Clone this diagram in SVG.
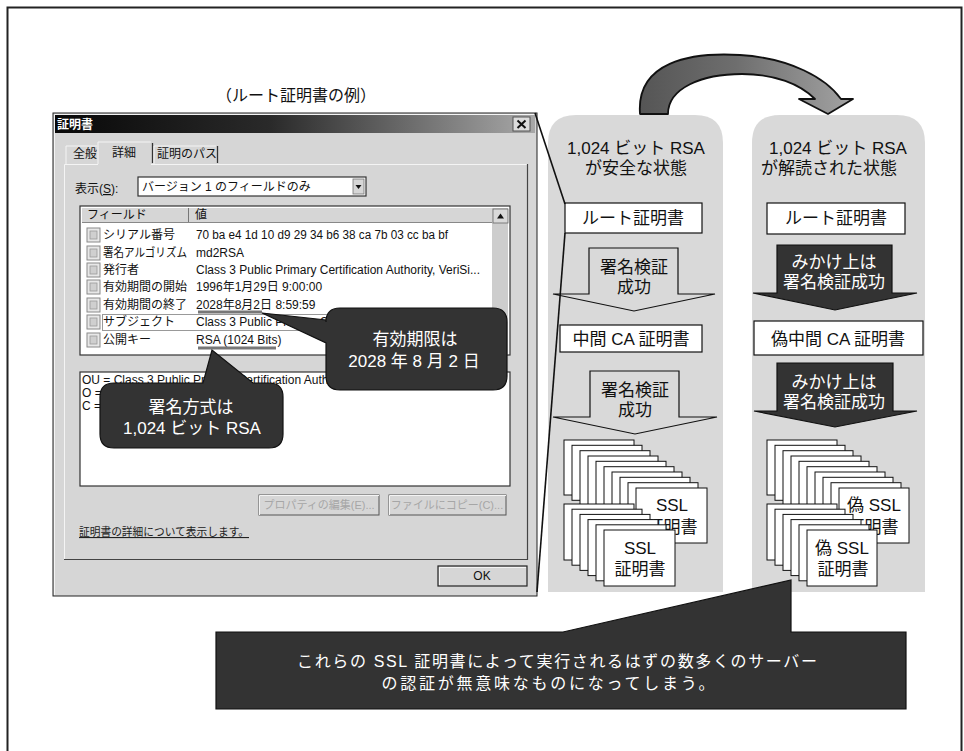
<svg xmlns="http://www.w3.org/2000/svg" width="964" height="751" viewBox="0 0 964 751">
  <defs>
    <linearGradient id="titleGrad" x1="0" y1="0" x2="1" y2="0">
      <stop offset="0" stop-color="#080808"/>
      <stop offset="0.45" stop-color="#2a2a2a"/>
      <stop offset="1" stop-color="#a8a8a8"/>
    </linearGradient>
    <linearGradient id="archGrad" x1="0" y1="0" x2="1" y2="0">
      <stop offset="0" stop-color="#555"/>
      <stop offset="0.45" stop-color="#6e6e6e"/>
      <stop offset="1" stop-color="#a3a3a3"/>
    </linearGradient>
    <g id="docIcon">
      <rect x="0" y="0" width="13" height="14" fill="#e8e8e8" stroke="#8a8a8a" stroke-width="1"/>
      <rect x="3" y="3" width="7" height="8" fill="#cfcfcf" stroke="#9a9a9a" stroke-width="0.8"/>
    </g>
  </defs>
  <style>
    .jp { font-family: "Liberation Sans", "Noto Sans CJK JP", sans-serif; }
    .ui { font-family: "Liberation Sans", "Noto Sans CJK JP", sans-serif; font-size: 12px; fill: #111; }
    .uiS { font-family: "Liberation Sans", "Noto Sans CJK JP", sans-serif; font-size: 11px; }
    .lbl { font-size: 17px; fill: #111; text-anchor: middle; }
    .wlbl { font-size: 17px; fill: #fff; text-anchor: middle; }
    .panel { fill: #d9d9d9; }
    .box { fill: #fff; stroke: #111; stroke-width: 1.2; }
    .card { fill: #fff; stroke: #111; stroke-width: 1; }
    .openArrow { fill: #d9d9d9; stroke: #111; stroke-width: 1.2; stroke-linejoin: miter; }
    .darkArrow { fill: #333; stroke: #111; stroke-width: 1.2; }
    .callout { fill: #333; stroke: #111; stroke-width: 1.2; }
    .lead { stroke: #111; stroke-width: 1.6; fill: none; }
    .bevelLight { stroke: #f4f4f4; stroke-width: 1; fill: none; }
    .disabled { fill: #a6a6a6; text-anchor: middle; }
  </style>

  <!-- page frame -->
  <rect x="7.5" y="7.5" width="954" height="800" fill="#fff" stroke="#222" stroke-width="2"/>

  <!-- caption above the dialog -->
  <text class="jp" x="296" y="101" font-size="16" fill="#111" text-anchor="middle">（ルート証明書の例）</text>

  <!-- certificate dialog -->
  <g id="dialog">
    <rect x="53" y="113" width="484" height="483" fill="#d6d6d6" stroke="#222" stroke-width="1"/>
    <path class="bevelLight" d="M54.5,595 V114.5 H536"/>
    <!-- title bar -->
    <rect x="55" y="115" width="480" height="18" fill="url(#titleGrad)"/>
    <text class="ui" x="57" y="129" font-weight="bold" style="fill:#fff">証明書</text>
    <rect x="513" y="117" width="17" height="14" fill="#dcdcdc" stroke="#555" stroke-width="1"/>
    <path d="M517.5,120.5 L525.5,128 M525.5,120.5 L517.5,128" stroke="#111" stroke-width="2"/>

    <!-- tabs -->
    <path class="bevelLight" d="M66,164 V146 H97"/>
    <text class="ui" x="73" y="158">全般</text>
    <path d="M98,164 V142 H151" fill="none" stroke="#f4f4f4"/>
    <text class="ui" x="112" y="157">詳細</text>
    <line x1="152.5" y1="143" x2="152.5" y2="163" stroke="#333" stroke-width="1.3"/>
    <path class="bevelLight" d="M154,164 V146 H216"/>
    <line x1="217.5" y1="146" x2="217.5" y2="163" stroke="#333" stroke-width="1.3"/>
    <text class="ui" x="157" y="158">証明のパス</text>

    <!-- tab panel -->
    <path class="bevelLight" d="M64.5,559 V164.5 H98 M151,164.5 H527"/>
    <path d="M527.5,164 V559.5 H64" fill="none" stroke="#444" stroke-width="1.2"/>

    <!-- show selector -->
    <text class="ui" x="75" y="193">表示(<tspan text-decoration="underline">S</tspan>):</text>
    <rect x="138" y="177" width="228" height="19" fill="#fff" stroke="#333" stroke-width="1.2"/>
    <text class="ui" x="142" y="191">バージョン 1 のフィールドのみ</text>
    <rect x="353" y="179" width="11" height="15" fill="#d6d6d6" stroke="#777" stroke-width="0.8"/>
    <path d="M355.5,185 H361.5 L358.5,189 Z" fill="#111"/>

    <!-- field list -->
    <rect x="80" y="206" width="430" height="149" fill="#fff" stroke="#333" stroke-width="1.2"/>
    <rect x="82" y="208" width="410" height="14" fill="#d6d6d6"/>
    <line x1="188.5" y1="208" x2="188.5" y2="222" stroke="#777"/>
    <line x1="82" y1="222.5" x2="492" y2="222.5" stroke="#888"/>
    <text class="ui" x="87" y="219">フィールド</text>
    <text class="ui" x="195" y="219">値</text>
    <!-- scrollbar -->
    <rect x="492" y="208" width="16" height="146" fill="#cdcdcd"/>
    <rect x="493" y="209" width="15" height="14" fill="#d9d9d9" stroke="#666" stroke-width="0.8"/>
    <path d="M497,218.5 H504 L500.5,213.5 Z" fill="#111"/>

    <use href="#docIcon" x="87" y="228"/>
    <text class="ui" x="103" y="239">シリアル番号</text>
    <text class="ui" x="196" y="239" textLength="252" lengthAdjust="spacingAndGlyphs">70 ba e4 1d 10 d9 29 34 b6 38 ca 7b 03 cc ba bf</text>
    <use href="#docIcon" x="87" y="246"/>
    <text class="ui" x="103" y="257" textLength="84" lengthAdjust="spacingAndGlyphs">署名アルゴリズム</text>
    <text class="ui" x="196" y="257">md2RSA</text>
    <use href="#docIcon" x="87" y="263"/>
    <text class="ui" x="103" y="274">発行者</text>
    <text class="ui" x="196" y="274" textLength="284" lengthAdjust="spacingAndGlyphs">Class 3 Public Primary Certification Authority, VeriSi...</text>
    <use href="#docIcon" x="87" y="280"/>
    <text class="ui" x="103" y="291">有効期間の開始</text>
    <text class="ui" x="196" y="291">1996年1月29日 9:00:00</text>
    <use href="#docIcon" x="87" y="298"/>
    <text class="ui" x="103" y="309">有効期間の終了</text>
    <text class="ui" x="196" y="309">2028年8月2日 8:59:59</text>
    <rect x="102.5" y="314.5" width="388" height="16" fill="none" stroke="#333" stroke-width="1" stroke-dasharray="1,1"/>
    <use href="#docIcon" x="87" y="315"/>
    <text class="ui" x="103" y="326">サブジェクト</text>
    <text class="ui" x="196" y="326" textLength="284" lengthAdjust="spacingAndGlyphs">Class 3 Public Primary Certification Authority, VeriSi...</text>
    <use href="#docIcon" x="87" y="333"/>
    <text class="ui" x="103" y="344">公開キー</text>
    <text class="ui" x="196" y="344">RSA (1024 Bits)</text>

    <!-- highlight underlines -->
    <line x1="198" y1="312" x2="262" y2="312" stroke="#777" stroke-width="3"/>
    <line x1="198" y1="348" x2="276" y2="348" stroke="#777" stroke-width="3"/>

    <!-- value text box -->
    <rect x="80" y="372" width="430" height="114" fill="#fff" stroke="#333" stroke-width="1.2"/>
    <text class="ui" x="82" y="384">OU = Class 3 Public Primary Certification Authority</text>
    <text class="ui" x="82" y="397">O =</text>
    <text class="ui" x="82" y="410">C =</text>

    <!-- disabled buttons -->
    <rect x="259" y="495" width="120" height="20" fill="#d6d6d6" stroke="#555" stroke-width="1"/>
    <path class="bevelLight" d="M259.5,515 V495.5 H379"/>
    <text class="uiS disabled" x="319" y="509">プロパティの編集(E)...</text>
    <rect x="389" y="495" width="117" height="20" fill="#d6d6d6" stroke="#555" stroke-width="1"/>
    <path class="bevelLight" d="M389.5,515 V495.5 H506"/>
    <text class="uiS disabled" x="447" y="509">ファイルにコピー(C)...</text>

    <!-- help link -->
    <text class="uiS" x="79" y="536" fill="#222" text-decoration="underline" textLength="170" lengthAdjust="spacingAndGlyphs">証明書の詳細について表示します。</text>

    <!-- OK button -->
    <rect x="438" y="566" width="89" height="20" fill="#d6d6d6" stroke="#222" stroke-width="1.2"/>
    <path class="bevelLight" d="M439.5,585 V567.5 H526"/>
    <text class="ui" x="482" y="580" text-anchor="middle">OK</text>
  </g>

  <!-- callout: expiry date -->
  <g id="callout-expiry">
    <path class="callout" d="M340,308 H493 Q507,308 507,322 V376 Q507,390 493,390 H340 Q326,390 326,376 V343 L262,313 L326,320 V322 Q326,308 340,308 Z"/>
    <text class="jp wlbl" x="415" y="345">有効期限は</text>
    <text class="jp wlbl" x="414" y="367">2028 年 8 月 2 日</text>
  </g>

  <!-- callout: signature method -->
  <g id="callout-rsa">
    <path class="callout" d="M114,383 H203 L212,350 L253,383 H269 Q283,383 283,397 V434 Q283,448 269,448 H114 Q100,448 100,434 V397 Q100,383 114,383 Z"/>
    <text class="jp wlbl" x="191" y="413">署名方式は</text>
    <text class="jp wlbl" x="192" y="434">1,024 ビット RSA</text>
  </g>

  <!-- state panels -->
  <g id="panel-safe">
    <path class="panel" d="M548,592 V143 Q548,115 576,115 H695 Q723,115 723,143 V592 Z"/>
    <text class="jp lbl" x="636" y="154">1,024 ビット RSA</text>
    <text class="jp lbl" x="636" y="174">が安全な状態</text>
  </g>
  <g id="panel-broken">
    <path class="panel" d="M752,592 V143 Q752,115 780,115 H897 Q925,115 925,143 V592 Z"/>
    <text class="jp lbl" x="838" y="154">1,024 ビット RSA</text>
    <text class="jp lbl" x="829" y="174">が解読された状態</text>
  </g>

  <!-- transition arrow between panels -->
  <g id="arch-arrow">
    <path d="M640,114 C636,62 690,52 740,55 C790,58 826,78 841,99 L853,99 L828,114 L799,99 L815,99 C800,84 775,74 742,74 C702,74 668,88 668,114 Z" fill="url(#archGrad)" stroke="#111" stroke-width="1.8" stroke-linejoin="round"/>
  </g>

  <!-- safe chain -->
  <g id="root-cert">
    <rect class="box" x="565" y="203" width="137" height="30"/>
    <text class="jp lbl" x="633" y="224">ルート証明書</text>
  </g>
  <g id="verify-1">
    <path class="openArrow" d="M589,248 H678 V294 H715 L634,311 L553,294 H589 Z"/>
    <text class="jp lbl" x="634" y="273">署名検証</text>
    <text class="jp lbl" x="634" y="293">成功</text>
  </g>
  <g id="ca-cert">
    <rect class="box" x="560" y="325" width="142" height="27"/>
    <text class="jp lbl" x="631" y="345">中間 CA 証明書</text>
  </g>
  <g id="verify-2">
    <path class="openArrow" d="M590,371 H679 V417 H717 L635,434 L553,417 H590 Z"/>
    <text class="jp lbl" x="635" y="396">署名検証</text>
    <text class="jp lbl" x="635" y="416">成功</text>
  </g>
  <g id="ssl-certs">
    <rect class="card" x="564" y="440" width="70" height="55"/>
    <rect class="card" x="572" y="445.3" width="70" height="55"/>
    <rect class="card" x="580" y="450.7" width="70" height="55"/>
    <rect class="card" x="588" y="456" width="70" height="55"/>
    <rect class="card" x="596" y="461.3" width="70" height="55"/>
    <rect class="card" x="604" y="466.7" width="70" height="55"/>
    <rect class="card" x="612" y="472" width="70" height="55"/>
    <rect class="card" x="620" y="477.3" width="70" height="55"/>
    <rect class="card" x="628" y="482.7" width="70" height="55"/>
    <rect class="card" x="636" y="488" width="71" height="55"/>
    <text class="jp lbl" x="672" y="511">SSL</text>
    <text class="jp lbl" x="672" y="533">証明書</text>
    <rect class="card" x="564" y="504" width="70" height="56"/>
    <rect class="card" x="572" y="509.2" width="70" height="56"/>
    <rect class="card" x="580" y="514.4" width="70" height="56"/>
    <rect class="card" x="588" y="519.6" width="70" height="56"/>
    <rect class="card" x="596" y="524.8" width="70" height="56"/>
    <rect class="card" x="604" y="530" width="71" height="56"/>
    <text class="jp lbl" x="640" y="554">SSL</text>
    <text class="jp lbl" x="640" y="575">証明書</text>
  </g>

  <!-- broken chain -->
  <g id="root-cert-2">
    <rect class="box" x="767" y="203" width="138" height="31"/>
    <text class="jp lbl" x="836" y="224">ルート証明書</text>
  </g>
  <g id="fake-verify-1">
    <path class="darkArrow" d="M777,245 H892 V293 H917 L835,310 L753,293 H777 Z"/>
    <text class="jp wlbl" x="834" y="268">みかけ上は</text>
    <text class="jp wlbl" x="834" y="288">署名検証成功</text>
  </g>
  <g id="fake-ca-cert">
    <rect class="box" x="754" y="321" width="169" height="34"/>
    <text class="jp lbl" x="838" y="345">偽中間 CA 証明書</text>
  </g>
  <g id="fake-verify-2">
    <path class="darkArrow" d="M777,363 H893 V411 H917 L835,427 L754,411 H777 Z"/>
    <text class="jp wlbl" x="834" y="388">みかけ上は</text>
    <text class="jp wlbl" x="834" y="408">署名検証成功</text>
  </g>
  <g id="fake-ssl-certs">
    <rect class="card" x="767" y="440" width="70" height="55"/>
    <rect class="card" x="775" y="445.3" width="70" height="55"/>
    <rect class="card" x="783" y="450.7" width="70" height="55"/>
    <rect class="card" x="791" y="456" width="70" height="55"/>
    <rect class="card" x="799" y="461.3" width="70" height="55"/>
    <rect class="card" x="807" y="466.7" width="70" height="55"/>
    <rect class="card" x="815" y="472" width="70" height="55"/>
    <rect class="card" x="823" y="477.3" width="70" height="55"/>
    <rect class="card" x="831" y="482.7" width="70" height="55"/>
    <rect class="card" x="839" y="488" width="70" height="55"/>
    <text class="jp lbl" x="874" y="511">偽 SSL</text>
    <text class="jp lbl" x="873" y="533">証明書</text>
    <rect class="card" x="767" y="504" width="70" height="56"/>
    <rect class="card" x="775" y="509.2" width="70" height="56"/>
    <rect class="card" x="783" y="514.4" width="70" height="56"/>
    <rect class="card" x="791" y="519.6" width="70" height="56"/>
    <rect class="card" x="799" y="524.8" width="70" height="56"/>
    <rect class="card" x="807" y="530" width="70" height="56"/>
    <text class="jp lbl" x="842" y="554">偽 SSL</text>
    <text class="jp lbl" x="843" y="575">証明書</text>
  </g>

  <!-- leader lines from the dialog to the root certificate -->
  <g id="connectors">
    <line class="lead" x1="535" y1="113" x2="565" y2="204"/>
    <line class="lead" x1="537" y1="592" x2="565" y2="233"/>
  </g>

  <!-- summary callout -->
  <g id="callout-summary">
    <path class="callout" d="M216,632 H563 L791,580 V632 H906 V709 H216 Z"/>
    <text class="jp" x="557" y="667" font-size="16" fill="#fff" text-anchor="middle" textLength="520" lengthAdjust="spacing">これらの SSL 証明書によって実行されるはずの数多くのサーバー</text>
    <text class="jp" x="548" y="689" font-size="16" fill="#fff" text-anchor="middle" textLength="333" lengthAdjust="spacing">の認証が無意味なものになってしまう。</text>
  </g>
</svg>
